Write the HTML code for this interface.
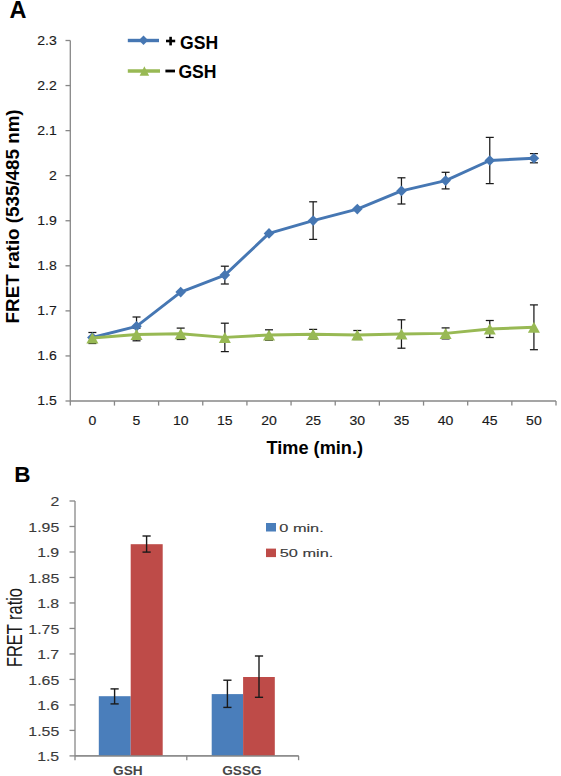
<!DOCTYPE html>
<html><head><meta charset="utf-8"><style>
html,body{margin:0;padding:0;background:#fff;}
body{width:561px;height:776px;overflow:hidden;}
svg{display:block;}
</style></head><body>
<svg width="561" height="776" viewBox="0 0 561 776">
<rect width="561" height="776" fill="#fff"/>
<g fill="none" stroke="#878787" stroke-width="1.3">
<line x1="70.3" y1="40.5" x2="70.3" y2="401.0"/>
<line x1="70.3" y1="401.0" x2="556.0" y2="401.0"/>
<line x1="65.5" y1="401.00" x2="70.3" y2="401.00"/>
<line x1="65.5" y1="355.94" x2="70.3" y2="355.94"/>
<line x1="65.5" y1="310.88" x2="70.3" y2="310.88"/>
<line x1="65.5" y1="265.81" x2="70.3" y2="265.81"/>
<line x1="65.5" y1="220.75" x2="70.3" y2="220.75"/>
<line x1="65.5" y1="175.69" x2="70.3" y2="175.69"/>
<line x1="65.5" y1="130.62" x2="70.3" y2="130.62"/>
<line x1="65.5" y1="85.56" x2="70.3" y2="85.56"/>
<line x1="65.5" y1="40.50" x2="70.3" y2="40.50"/>
<line x1="70.30" y1="401.0" x2="70.30" y2="405.6"/>
<line x1="114.45" y1="401.0" x2="114.45" y2="405.6"/>
<line x1="158.61" y1="401.0" x2="158.61" y2="405.6"/>
<line x1="202.76" y1="401.0" x2="202.76" y2="405.6"/>
<line x1="246.92" y1="401.0" x2="246.92" y2="405.6"/>
<line x1="291.07" y1="401.0" x2="291.07" y2="405.6"/>
<line x1="335.23" y1="401.0" x2="335.23" y2="405.6"/>
<line x1="379.38" y1="401.0" x2="379.38" y2="405.6"/>
<line x1="423.54" y1="401.0" x2="423.54" y2="405.6"/>
<line x1="467.69" y1="401.0" x2="467.69" y2="405.6"/>
<line x1="511.85" y1="401.0" x2="511.85" y2="405.6"/>
<line x1="556.00" y1="401.0" x2="556.00" y2="405.6"/>
</g>
<g font-family='"Liberation Sans", sans-serif' font-size="13" fill="#1a1a1a" stroke="#1a1a1a" stroke-width="0.15" text-anchor="end">
<text transform="translate(56.8 405.3) scale(1.08 1)">1.5</text>
<text transform="translate(56.8 360.2) scale(1.08 1)">1.6</text>
<text transform="translate(56.8 315.2) scale(1.08 1)">1.7</text>
<text transform="translate(56.8 270.1) scale(1.08 1)">1.8</text>
<text transform="translate(56.8 225.1) scale(1.08 1)">1.9</text>
<text transform="translate(56.8 180.0) scale(1.08 1)">2</text>
<text transform="translate(56.8 134.9) scale(1.08 1)">2.1</text>
<text transform="translate(56.8 89.9) scale(1.08 1)">2.2</text>
<text transform="translate(56.8 44.8) scale(1.08 1)">2.3</text>
</g>
<g font-family='"Liberation Sans", sans-serif' font-size="13" fill="#1a1a1a" stroke="#1a1a1a" stroke-width="0.15" text-anchor="middle">
<text transform="translate(92.4 425.3) scale(1.08 1)">0</text>
<text transform="translate(136.5 425.3) scale(1.08 1)">5</text>
<text transform="translate(180.7 425.3) scale(1.08 1)">10</text>
<text transform="translate(224.8 425.3) scale(1.08 1)">15</text>
<text transform="translate(269.0 425.3) scale(1.08 1)">20</text>
<text transform="translate(313.2 425.3) scale(1.08 1)">25</text>
<text transform="translate(357.3 425.3) scale(1.08 1)">30</text>
<text transform="translate(401.5 425.3) scale(1.08 1)">35</text>
<text transform="translate(445.6 425.3) scale(1.08 1)">40</text>
<text transform="translate(489.8 425.3) scale(1.08 1)">45</text>
<text transform="translate(533.9 425.3) scale(1.08 1)">50</text>
</g>
<g stroke="#1a1a1a" stroke-width="1.25"><line x1="136.53" y1="317.00" x2="136.53" y2="335.60"/><line x1="132.53" y1="317.00" x2="140.53" y2="317.00"/><line x1="132.53" y1="335.60" x2="140.53" y2="335.60"/><line x1="224.84" y1="266.20" x2="224.84" y2="284.00"/><line x1="220.84" y1="266.20" x2="228.84" y2="266.20"/><line x1="220.84" y1="284.00" x2="228.84" y2="284.00"/><line x1="313.15" y1="201.80" x2="313.15" y2="239.40"/><line x1="309.15" y1="201.80" x2="317.15" y2="201.80"/><line x1="309.15" y1="239.40" x2="317.15" y2="239.40"/><line x1="401.46" y1="177.80" x2="401.46" y2="204.00"/><line x1="397.46" y1="177.80" x2="405.46" y2="177.80"/><line x1="397.46" y1="204.00" x2="405.46" y2="204.00"/><line x1="445.61" y1="172.30" x2="445.61" y2="188.90"/><line x1="441.61" y1="172.30" x2="449.61" y2="172.30"/><line x1="441.61" y1="188.90" x2="449.61" y2="188.90"/><line x1="489.77" y1="137.40" x2="489.77" y2="183.60"/><line x1="485.77" y1="137.40" x2="493.77" y2="137.40"/><line x1="485.77" y1="183.60" x2="493.77" y2="183.60"/><line x1="533.92" y1="153.60" x2="533.92" y2="162.80"/><line x1="529.92" y1="153.60" x2="537.92" y2="153.60"/><line x1="529.92" y1="162.80" x2="537.92" y2="162.80"/><line x1="92.38" y1="332.50" x2="92.38" y2="343.50"/><line x1="88.38" y1="332.50" x2="96.38" y2="332.50"/><line x1="88.38" y1="343.50" x2="96.38" y2="343.50"/><line x1="136.53" y1="328.20" x2="136.53" y2="340.80"/><line x1="132.53" y1="328.20" x2="140.53" y2="328.20"/><line x1="132.53" y1="340.80" x2="140.53" y2="340.80"/><line x1="180.69" y1="328.10" x2="180.69" y2="339.50"/><line x1="176.69" y1="328.10" x2="184.69" y2="328.10"/><line x1="176.69" y1="339.50" x2="184.69" y2="339.50"/><line x1="224.84" y1="323.20" x2="224.84" y2="351.60"/><line x1="220.84" y1="323.20" x2="228.84" y2="323.20"/><line x1="220.84" y1="351.60" x2="228.84" y2="351.60"/><line x1="269.00" y1="329.80" x2="269.00" y2="340.20"/><line x1="265.00" y1="329.80" x2="273.00" y2="329.80"/><line x1="265.00" y1="340.20" x2="273.00" y2="340.20"/><line x1="313.15" y1="329.40" x2="313.15" y2="339.00"/><line x1="309.15" y1="329.40" x2="317.15" y2="329.40"/><line x1="309.15" y1="339.00" x2="317.15" y2="339.00"/><line x1="357.30" y1="330.50" x2="357.30" y2="339.50"/><line x1="353.30" y1="330.50" x2="361.30" y2="330.50"/><line x1="353.30" y1="339.50" x2="361.30" y2="339.50"/><line x1="401.46" y1="319.80" x2="401.46" y2="348.20"/><line x1="397.46" y1="319.80" x2="405.46" y2="319.80"/><line x1="397.46" y1="348.20" x2="405.46" y2="348.20"/><line x1="445.61" y1="327.90" x2="445.61" y2="338.90"/><line x1="441.61" y1="327.90" x2="449.61" y2="327.90"/><line x1="441.61" y1="338.90" x2="449.61" y2="338.90"/><line x1="489.77" y1="320.50" x2="489.77" y2="337.50"/><line x1="485.77" y1="320.50" x2="493.77" y2="320.50"/><line x1="485.77" y1="337.50" x2="493.77" y2="337.50"/><line x1="533.92" y1="304.90" x2="533.92" y2="349.70"/><line x1="529.92" y1="304.90" x2="537.92" y2="304.90"/><line x1="529.92" y1="349.70" x2="537.92" y2="349.70"/></g>
<polyline points="92.38,337.50 136.53,326.30 180.69,292.10 224.84,275.10 269.00,233.40 313.15,220.60 357.30,209.10 401.46,190.90 445.61,180.60 489.77,160.50 533.92,158.20" fill="none" stroke="#4677B3" stroke-width="2.9" stroke-linejoin="round" stroke-linecap="round"/>
<g fill="#4677B3"><path d="M92.38 332.20L97.68 337.50L92.38 342.80L87.08 337.50Z"/><path d="M136.53 321.00L141.83 326.30L136.53 331.60L131.23 326.30Z"/><path d="M180.69 286.80L185.99 292.10L180.69 297.40L175.39 292.10Z"/><path d="M224.84 269.80L230.14 275.10L224.84 280.40L219.54 275.10Z"/><path d="M269.00 228.10L274.30 233.40L269.00 238.70L263.70 233.40Z"/><path d="M313.15 215.30L318.45 220.60L313.15 225.90L307.85 220.60Z"/><path d="M357.30 203.80L362.60 209.10L357.30 214.40L352.00 209.10Z"/><path d="M401.46 185.60L406.76 190.90L401.46 196.20L396.16 190.90Z"/><path d="M445.61 175.30L450.91 180.60L445.61 185.90L440.31 180.60Z"/><path d="M489.77 155.20L495.07 160.50L489.77 165.80L484.47 160.50Z"/><path d="M533.92 152.90L539.22 158.20L533.92 163.50L528.62 158.20Z"/></g>
<polyline points="92.38,338.00 136.53,334.50 180.69,333.80 224.84,337.40 269.00,335.00 313.15,334.20 357.30,335.00 401.46,334.00 445.61,333.40 489.77,329.00 533.92,327.30" fill="none" stroke="#98B954" stroke-width="2.9" stroke-linejoin="round" stroke-linecap="round"/>
<g fill="#98B954"><path d="M92.38 332.50L98.38 343.50L86.38 343.50Z"/><path d="M136.53 329.00L142.53 340.00L130.53 340.00Z"/><path d="M180.69 328.30L186.69 339.30L174.69 339.30Z"/><path d="M224.84 331.90L230.84 342.90L218.84 342.90Z"/><path d="M269.00 329.50L275.00 340.50L263.00 340.50Z"/><path d="M313.15 328.70L319.15 339.70L307.15 339.70Z"/><path d="M357.30 329.50L363.30 340.50L351.30 340.50Z"/><path d="M401.46 328.50L407.46 339.50L395.46 339.50Z"/><path d="M445.61 327.90L451.61 338.90L439.61 338.90Z"/><path d="M489.77 323.50L495.77 334.50L483.77 334.50Z"/><path d="M533.92 321.80L539.92 332.80L527.92 332.80Z"/></g>
<line x1="127.8" y1="40.5" x2="159" y2="40.5" stroke="#4677B3" stroke-width="3.4"/>
<g fill="#4677B3"><path d="M143.50 35.60L148.20 40.30L143.50 45.00L138.80 40.30Z"/></g>
<line x1="127.8" y1="71" x2="160" y2="71" stroke="#98B954" stroke-width="3.4"/>
<g fill="#98B954"><path d="M144.40 66.20L149.15 75.80L139.65 75.80Z"/></g>
<g font-family='"Liberation Sans", sans-serif' font-weight="bold" font-size="17.6" fill="#000">
<text x="180.0" y="48.6">GSH</text>
<text x="178.4" y="77.9">GSH</text>
</g>
<rect x="166" y="39.7" width="9.2" height="2.6" fill="#000"/><rect x="169.3" y="36.8" width="2.6" height="8.6" fill="#000"/>
<rect x="165.4" y="69.6" width="9.6" height="2.8" fill="#000"/>
<text x="9.5" y="17.5" font-family='"Liberation Sans", sans-serif' font-weight="bold" font-size="23.5" fill="#000">A</text>
<text transform="translate(19.2 323.4) rotate(-90)" x="0" y="0" font-family='"Liberation Sans", sans-serif' font-weight="bold" font-size="19" fill="#000" textLength="214" lengthAdjust="spacingAndGlyphs">FRET ratio (535/485 nm)</text>
<text x="266.5" y="454.1" font-family='"Liberation Sans", sans-serif' font-weight="bold" font-size="19" fill="#000" textLength="96.5" lengthAdjust="spacingAndGlyphs">Time (min.)</text>
<g fill="none" stroke="#878787" stroke-width="1.3">
<line x1="75.0" y1="501.0" x2="75.0" y2="755.9"/>
<line x1="75.0" y1="755.9" x2="298.6" y2="755.9"/>
<line x1="69.5" y1="755.90" x2="75.0" y2="755.90"/>
<line x1="69.5" y1="730.41" x2="75.0" y2="730.41"/>
<line x1="69.5" y1="704.92" x2="75.0" y2="704.92"/>
<line x1="69.5" y1="679.43" x2="75.0" y2="679.43"/>
<line x1="69.5" y1="653.94" x2="75.0" y2="653.94"/>
<line x1="69.5" y1="628.45" x2="75.0" y2="628.45"/>
<line x1="69.5" y1="602.96" x2="75.0" y2="602.96"/>
<line x1="69.5" y1="577.47" x2="75.0" y2="577.47"/>
<line x1="69.5" y1="551.98" x2="75.0" y2="551.98"/>
<line x1="69.5" y1="526.49" x2="75.0" y2="526.49"/>
<line x1="69.5" y1="501.00" x2="75.0" y2="501.00"/>
<line x1="75.00" y1="755.9" x2="75.00" y2="760.1999999999999"/>
<line x1="186.80" y1="755.9" x2="186.80" y2="760.1999999999999"/>
<line x1="298.60" y1="755.9" x2="298.60" y2="760.1999999999999"/>
</g>
<rect x="98.8" y="696.2" width="31.9" height="59.7" fill="#4A7EBB"/>
<rect x="130.7" y="544.2" width="32.0" height="211.7" fill="#BE4B48"/>
<rect x="211.7" y="694.1" width="31.4" height="61.8" fill="#4A7EBB"/>
<rect x="243.1" y="677.0" width="31.7" height="78.9" fill="#BE4B48"/>
<line x1="75.0" y1="755.9" x2="298.6" y2="755.9" stroke="#878787" stroke-width="1.3"/>
<g stroke="#1a1a1a" stroke-width="1.4"><line x1="114.6" y1="688.9" x2="114.6" y2="703.9"/><line x1="110.5" y1="688.9" x2="118.7" y2="688.9"/><line x1="110.5" y1="703.9" x2="118.7" y2="703.9"/><line x1="146.6" y1="536.0" x2="146.6" y2="552.1"/><line x1="142.5" y1="536.0" x2="150.7" y2="536.0"/><line x1="142.5" y1="552.1" x2="150.7" y2="552.1"/><line x1="227.4" y1="680.2" x2="227.4" y2="707.4"/><line x1="223.3" y1="680.2" x2="231.5" y2="680.2"/><line x1="223.3" y1="707.4" x2="231.5" y2="707.4"/><line x1="259.0" y1="656.0" x2="259.0" y2="697.3"/><line x1="254.9" y1="656.0" x2="263.1" y2="656.0"/><line x1="254.9" y1="697.3" x2="263.1" y2="697.3"/></g>
<g font-family='"Liberation Sans", sans-serif' font-size="12.5" fill="#3a3a3a" stroke="#3a3a3a" stroke-width="0.12" text-anchor="end">
<text transform="translate(59.2 761.1) scale(1.27 1)">1.5</text>
<text transform="translate(59.2 735.6) scale(1.27 1)">1.55</text>
<text transform="translate(59.2 710.1) scale(1.27 1)">1.6</text>
<text transform="translate(59.2 684.6) scale(1.27 1)">1.65</text>
<text transform="translate(59.2 659.1) scale(1.27 1)">1.7</text>
<text transform="translate(59.2 633.7) scale(1.27 1)">1.75</text>
<text transform="translate(59.2 608.2) scale(1.27 1)">1.8</text>
<text transform="translate(59.2 582.7) scale(1.27 1)">1.85</text>
<text transform="translate(59.2 557.2) scale(1.27 1)">1.9</text>
<text transform="translate(59.2 531.7) scale(1.27 1)">1.95</text>
<text transform="translate(59.2 506.2) scale(1.27 1)">2</text>
</g>
<g font-family='"Liberation Sans", sans-serif' font-size="12.2" font-weight="bold" fill="#474747" text-anchor="middle">
<text transform="translate(127.9 775) scale(1.12 1)">GSH</text>
<text transform="translate(241.9 774.8) scale(1.12 1)">GSSG</text>
</g>
<rect x="266" y="523" width="10" height="8.5" fill="#4A7EBB"/>
<rect x="266" y="548.6" width="10" height="8.5" fill="#BE4B48"/>
<g font-family='"Liberation Sans", sans-serif' font-size="11.5" fill="#3a3a3a" stroke="#3a3a3a" stroke-width="0.12">
<text transform="translate(279.3 531.7) scale(1.42 1)">0 min.</text>
<text transform="translate(279.8 557) scale(1.42 1)">50 min.</text>
</g>
<text x="14.3" y="482.4" font-family='"Liberation Sans", sans-serif' font-weight="bold" font-size="22.5" fill="#000">B</text>
<text transform="translate(21.8 667.0) rotate(-90)" font-family='"Liberation Sans", sans-serif' font-size="21.5" fill="#1a1a1a" textLength="79" lengthAdjust="spacingAndGlyphs">FRET ratio</text>
</svg>
</body></html>
